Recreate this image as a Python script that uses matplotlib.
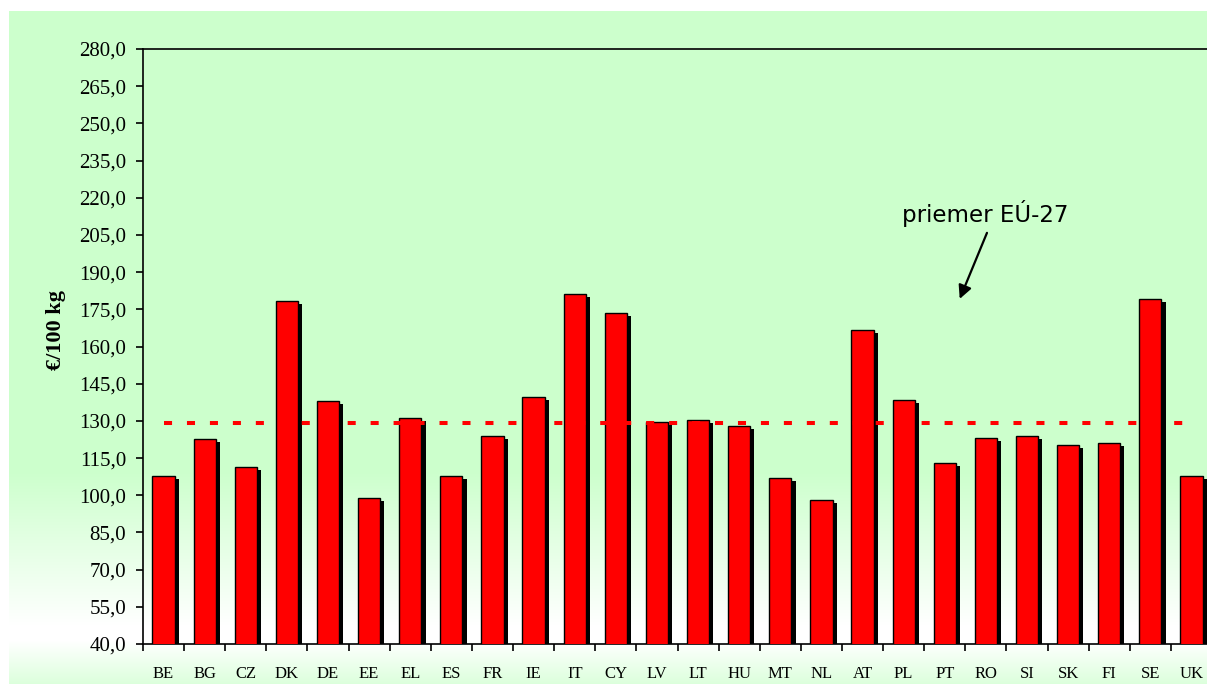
import numpy as np
import matplotlib
matplotlib.use("Agg")
import matplotlib.pyplot as plt
import matplotlib.patheffects as pe
from matplotlib.colors import to_rgb

countries = ["BE", "BG", "CZ", "DK", "DE", "EE", "EL", "ES", "FR", "IE", "IT", "CY", "LV",
             "LT", "HU", "MT", "NL", "AT", "PL", "PT", "RO", "SI", "SK", "FI", "SE", "UK"]
prices = [107.6, 122.6, 111.5, 178.2, 138.2, 99.0, 131.2, 107.6, 124.0, 139.8, 181.3, 173.5, 129.6,
          130.4, 128.1, 106.8, 98.2, 166.5, 138.3, 113.1, 123.2, 124.0, 120.3, 121.0, 179.0, 107.6]
eu_average = 129.2
y_ticks = np.arange(40, 281, 15)

W, H = 1207, 684
fig = plt.figure(figsize=(W / 100, H / 100), dpi=100)
fig.patch.set_facecolor("white")

# background: green box with vertical gradient (green -> white -> light green)
bg = fig.add_axes([0, 0, 1, 1], zorder=-10)
bg.set_axis_off()
rows = np.arange(H)
stops_y = [0, 470, 625, 640, 684]
green = np.array(to_rgb("#ccffcc"))
white = np.array([1.0, 1.0, 1.0])
light = np.array(to_rgb("#dcffdc"))
stops_c = [green, green, white, white, light]
img = np.zeros((H, W, 3))
for ch in range(3):
    col = np.interp(rows, stops_y, [c[ch] for c in stops_c])
    img[:, :, ch] = col[:, None]
img[:11, :, :] = 1.0
img[:, :9, :] = 1.0
bg.imshow(img, aspect="auto", extent=[0, 1, 0, 1], interpolation="bilinear")
bg.set_xlim(0, 1)
bg.set_ylim(0, 1)

ax = fig.add_axes([143 / W, (H - 644) / H, (1212 - 143) / W, 595 / H])
ax.set_facecolor("none")

x = np.arange(len(countries))
bars = ax.bar(x, prices, width=0.54, bottom=0, color="#ff0000", edgecolor="black",
              linewidth=1.0, zorder=3)
for b in bars:
    b.set_path_effects([pe.SimplePatchShadow(offset=(3, -2.2), shadow_rgbFace="black", alpha=1.0),
                        pe.Normal()])

ax.plot([x[0], x[-1]], [eu_average, eu_average], color="#ff0000", lw=2.9,
        dashes=(2, 3.7), zorder=4)

ax.set_xlim(-0.5, len(countries) - 0.5)
ax.set_ylim(40, 280)

ax.set_yticks(y_ticks)
ax.set_yticklabels([f"{v:.1f}".replace(".", ",") for v in y_ticks],
                   fontfamily="Liberation Serif", fontsize=15)
ax.tick_params(axis="y", direction="out", length=5, width=1.2, pad=7)

ax.set_xticks(np.arange(-0.5, len(countries), 1.0))
ax.set_xticklabels([])
ax.tick_params(axis="x", which="major", direction="out", length=5, width=1.2)
ax.set_xticks(x, minor=True)
ax.set_xticklabels(countries, minor=True, fontfamily="Liberation Serif", fontsize=12)
ax.tick_params(axis="x", which="minor", length=0, pad=16)

for s in ["left", "bottom", "top"]:
    ax.spines[s].set_linewidth(1.2)
ax.spines["right"].set_visible(False)

ax.set_ylabel("€/100 kg", fontfamily="Liberation Serif", fontweight="bold", fontsize=16)
ax.yaxis.set_label_coords(-0.072, 0.527)

ax.annotate("", xy=(0.764, 0.580), xytext=(0.7895, 0.691), xycoords="axes fraction",
            arrowprops=dict(arrowstyle="-|>", lw=1.6, color="black", mutation_scale=20,
                            shrinkA=0, shrinkB=0))
ax.text(0.710, 0.709, "priemer EÚ-27", transform=ax.transAxes, fontsize=16.5,
        fontfamily="DejaVu Sans", ha="left", va="baseline")

fig.savefig("out.png", dpi=100)
